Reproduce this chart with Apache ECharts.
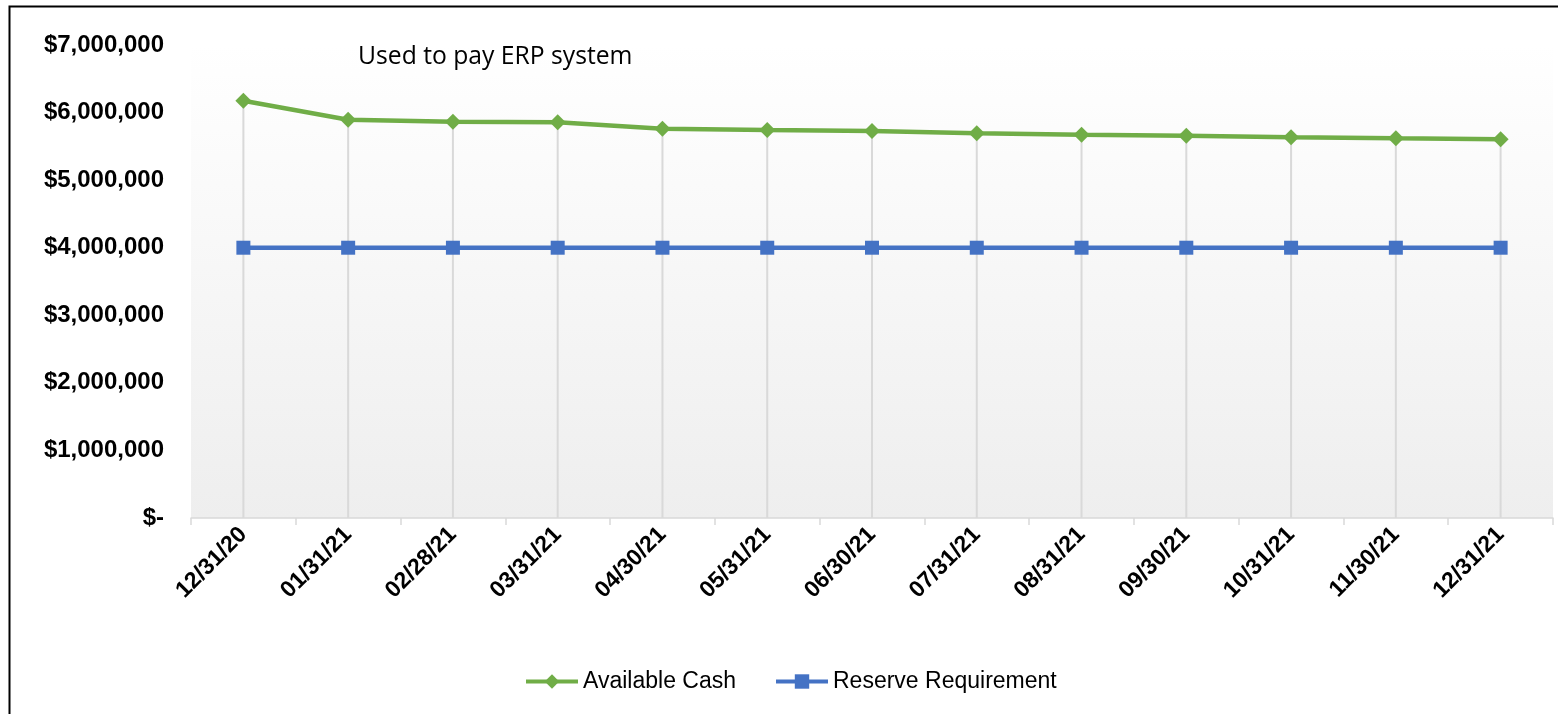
<!DOCTYPE html>
<html>
<head>
<meta charset="utf-8">
<title>Available Cash vs Reserve Requirement</title>
<script src="https://cdn.jsdelivr.net/npm/echarts@6/dist/echarts.min.js"></script>
<style>
  html, body { margin: 0; padding: 0; background: #ffffff; }
  #chart { width: 1558px; height: 714px; }
</style>
</head>
<body>
<div id="chart"></div>
<script>
// Month-end dates
const categories = ['12/31/20', '01/31/21', '02/28/21', '03/31/21', '04/30/21', '05/31/21',
  '06/30/21', '07/31/21', '08/31/21', '09/30/21', '10/31/21', '11/30/21', '12/31/21'];

// Cash on hand at each month end
const availableCash = [6176000, 5895000, 5865000, 5856000, 5761000, 5742000, 5727000,
  5693000, 5673000, 5658000, 5634000, 5619000, 5605000];

// Minimum reserve that must be held
const reserveRequirement = [4000000, 4000000, 4000000, 4000000, 4000000, 4000000, 4000000,
  4000000, 4000000, 4000000, 4000000, 4000000, 4000000];

const seriesNames = ['Available Cash', 'Reserve Requirement'];
const noteText = 'Used to pay ERP system';

function money(v) {
  if (v === 0) return '$-';
  return '$' + v.toLocaleString('en-US');
}

const chart = echarts.init(document.getElementById('chart'), null, { renderer: 'canvas' });

chart.setOption({
  animation: false,
  backgroundColor: '#ffffff',
  grid: {
    left: 191, right: 5, top: 45, bottom: 196,
    show: true,
    borderWidth: 0,
    backgroundColor: {
      type: 'linear', x: 0, y: 0, x2: 0, y2: 1,
      colorStops: [
        { offset: 0, color: '#ffffff' },
        { offset: 1, color: '#eeeeee' }
      ]
    }
  },
  legend: {
    data: seriesNames,
    left: 519,
    top: 665,
    itemWidth: 52,
    itemHeight: 18,
    itemGap: 38,
    lineStyle: { width: 4 },
    textStyle: { fontFamily: 'Liberation Sans, Arial, sans-serif', fontSize: 23, color: '#000000' }
  },
  xAxis: {
    type: 'category',
    data: categories,
    boundaryGap: true,
    axisLine: { show: true, lineStyle: { color: '#d9d9d9', width: 1.5 } },
    axisTick: { show: true, interval: 0, length: 7, lineStyle: { color: '#d9d9d9', width: 1.5 } },
    axisLabel: {
      interval: 0,
      rotate: 45,
      margin: 13,
      fontFamily: 'Liberation Sans, Arial, sans-serif',
      fontWeight: 'bold',
      fontSize: 23,
      color: '#000000'
    },
    splitLine: { show: false }
  },
  yAxis: {
    type: 'value',
    min: 0,
    max: 7000000,
    interval: 1000000,
    axisLine: { show: false },
    axisTick: { show: false },
    splitLine: { show: false },
    axisLabel: {
      margin: 27,
      formatter: money,
      fontFamily: 'Liberation Sans, Arial, sans-serif',
      fontWeight: 'bold',
      fontSize: 24,
      color: '#000000'
    }
  },
  series: [
    {
      // drop lines from each cash point down to the axis
      name: 'drop',
      type: 'bar',
      data: availableCash,
      barWidth: 2,
      silent: true,
      z: 1,
      itemStyle: { color: '#d9d9d9' }
    },
    {
      name: seriesNames[0],
      type: 'line',
      data: availableCash,
      symbol: 'diamond',
      symbolSize: 16,
      lineStyle: { color: '#70ad47', width: 4.5 },
      itemStyle: { color: '#70ad47' },
      z: 3
    },
    {
      name: seriesNames[1],
      type: 'line',
      data: reserveRequirement,
      symbol: 'rect',
      symbolSize: 14,
      lineStyle: { color: '#4472c4', width: 4.5 },
      itemStyle: { color: '#4472c4' },
      z: 3
    }
  ],
  graphic: [
    {
      type: 'rect',
      left: 7, top: 4,
      shape: { width: 1600, height: 800 },
      style: { fill: 'none', stroke: '#000000', lineWidth: 2 },
      silent: true,
      z: 10
    },
    {
      type: 'text',
      left: 358, top: 44,
      style: {
        text: noteText,
        fontFamily: 'Open Sans, Noto Sans, sans-serif',
        fontSize: 24.7,
        fill: '#000000'
      },
      z: 10
    }
  ]
});
</script>
</body>
</html>
